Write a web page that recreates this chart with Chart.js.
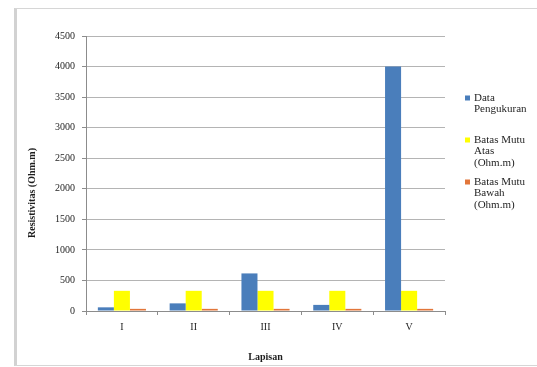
<!DOCTYPE html>
<html>
<head>
<meta charset="utf-8">
<script src="https://cdn.jsdelivr.net/npm/chart.js@4/dist/chart.umd.min.js"></script>
<style>
  html, body { margin: 0; padding: 0; background: #fff; }
  #wrap { width: 537px; height: 367px; position: relative; }
</style>
</head>
<body>
<div id="wrap"><canvas id="c" width="537" height="367"></canvas></div>
<script>
// Layers (x categories)
const layers = ['I', 'II', 'III', 'IV', 'V'];

// Resistivity values per layer (Ohm.m)
const measured   = [60, 125, 615, 100, 4000];
const upperLimit = [330, 330, 330, 330, 330];
const lowerLimit = [35, 35, 35, 35, 35];

// Series names and how they wrap in the legend
const seriesNames = ['Data Pengukuran', 'Batas Mutu Atas (Ohm.m)', 'Batas Mutu Bawah (Ohm.m)'];
const legendLines = [
  ['Data', 'Pengukuran'],
  ['Batas Mutu', 'Atas', '(Ohm.m)'],
  ['Batas Mutu', 'Bawah', '(Ohm.m)']
];
const seriesColors = ['#4A7EBB', '#FFFF00', '#E2763A'];

// Value axis ticks and titles
const yTicks = [0, 500, 1000, 1500, 2000, 2500, 3000, 3500, 4000, 4500];
const yTitle = 'Resistivitas (Ohm.m)';
const xTitle = 'Lapisan';

const FONT = 'Liberation Serif, Times New Roman, serif';
const TEXT = '#1e1e1e';

// Outer frame, axis titles and the wrapped legend
const decorations = {
  id: 'decorations',
  beforeDraw(chart) {
    const ctx = chart.ctx;
    ctx.save();
    ctx.fillStyle = '#ffffff';
    ctx.fillRect(0, 0, chart.width, chart.height);
    ctx.fillStyle = '#d2d2d2';
    ctx.fillRect(14, 8, 3, 358);
    ctx.strokeStyle = '#d6d6d6';
    ctx.lineWidth = 1;
    ctx.beginPath();
    ctx.moveTo(15, 8.5); ctx.lineTo(chart.width, 8.5);
    ctx.moveTo(15, 365.5); ctx.lineTo(chart.width, 365.5);
    ctx.stroke();
    ctx.restore();
  },
  afterDraw(chart) {
    const ctx = chart.ctx;
    const area = chart.chartArea;
    ctx.save();
    ctx.fillStyle = TEXT;
    ctx.font = 'bold 10px ' + FONT;
    ctx.textAlign = 'center';
    ctx.textBaseline = 'middle';
    // x title
    ctx.fillText(xTitle, (area.left + area.right) / 2, 357);
    // y title
    ctx.save();
    ctx.translate(32, 193);
    ctx.rotate(-Math.PI / 2);
    ctx.fillText(yTitle, 0, 0);
    ctx.restore();

    // legend
    ctx.font = '11px ' + FONT;
    ctx.textAlign = 'left';
    chart.data.datasets.forEach((ds, i) => {
      const y0 = 98 + i * 42;
      ctx.fillStyle = ds.backgroundColor;
      ctx.fillRect(465, y0 - 2.5, 5, 5);
      ctx.fillStyle = TEXT;
      legendLines[i].forEach((line, j) => {
        ctx.fillText(line, 474, y0 + j * 11.5);
      });
    });
    ctx.restore();
  }
};

new Chart(document.getElementById('c'), {
  type: 'bar',
  data: {
    labels: layers,
    datasets: [
      { label: seriesNames[0], data: measured,   backgroundColor: seriesColors[0] },
      { label: seriesNames[1], data: upperLimit, backgroundColor: seriesColors[1] },
      { label: seriesNames[2], data: lowerLimit, backgroundColor: seriesColors[2] }
    ]
  },
  options: {
    responsive: false,
    devicePixelRatio: 1,
    animation: false,
    datasets: {
      bar: { categoryPercentage: 0.67, barPercentage: 1.0, borderWidth: 0 }
    },
    layout: { padding: { left: 0, top: 36, right: 92, bottom: 0 } },
    plugins: {
      legend: { display: false },
      tooltip: { enabled: false },
      title: { display: false }
    },
    scales: {
      x: {
        offset: true,
        grid: {
          display: true,
          offset: true,
          drawOnChartArea: false,
          drawTicks: true,
          tickLength: 4,
          color: '#8c8c8c'
        },
        border: { display: true, color: '#8c8c8c', width: 1 },
        ticks: {
          font: { family: FONT, size: 10 },
          color: TEXT,
          padding: 6,
          maxRotation: 0
        },
        afterFit(scale) { scale.height = 56; }
      },
      y: {
        min: 0,
        max: 4500,
        grid: {
          color: '#b4b4b4',
          tickColor: '#8c8c8c',
          tickLength: 4,
          lineWidth: 1
        },
        border: { display: true, color: '#8c8c8c', width: 1 },
        ticks: {
          font: { family: FONT, size: 10 },
          color: TEXT,
          padding: 7,
          callback: (value) => String(value)
        },
        afterBuildTicks(scale) {
          scale.ticks = yTicks.map(v => ({ value: v }));
        },
        afterFit(scale) { scale.width = 86; }
      }
    }
  },
  plugins: [decorations]
});
</script>
</body>
</html>
